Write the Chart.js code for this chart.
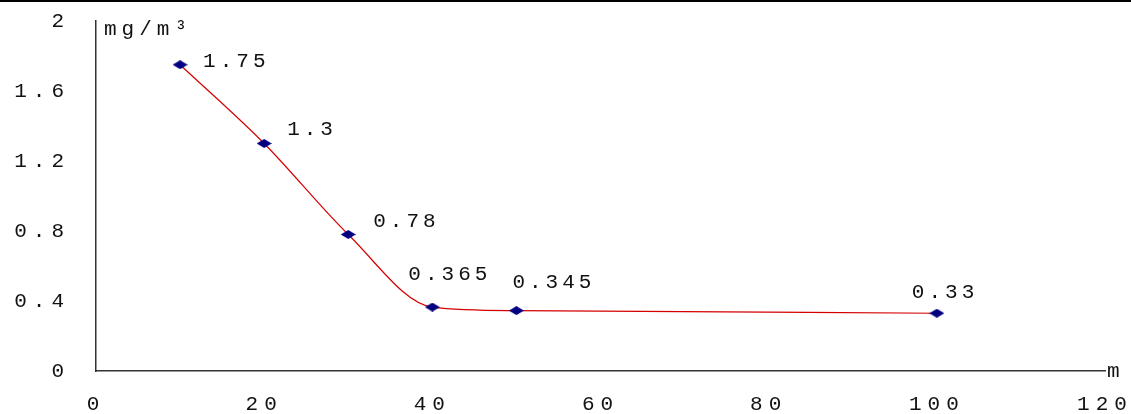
<!DOCTYPE html>
<html><head><meta charset="utf-8">
<script src="https://cdn.jsdelivr.net/npm/chart.js@4.4.1/dist/chart.umd.min.js"></script>
<style>html,body{margin:0;padding:0;background:#fff}#wrap{position:relative;width:1131px;height:414px}canvas{display:block}</style>
</head><body><div id="wrap"><canvas id="c" width="1131" height="414" style="width:1131px;height:414px"></canvas></div>
<script>
// ---- data ----
const distances = [10, 20, 30, 40, 50, 100];
const concentrations = [1.75, 1.3, 0.78, 0.365, 0.345, 0.33];
const xTicks = [0, 20, 40, 60, 80, 100, 120];
const yTicks = [0, 0.4, 0.8, 1.2, 1.6, 2];
const yUnit = 'mg/m³';
const xUnit = 'm';
// label placement relative to each point (px): [dx to left edge, dy to middle]
const labelOffsets = [[23, -3], [23, -14], [25, -13], [-24, -33], [-4, -28], [-25, -21]];

const FONT = '"Liberation Mono", "DejaVu Sans Mono", monospace';

function diamond(w, h, color) {
  const c = document.createElement('canvas');
  c.width = w; c.height = h;
  const g = c.getContext('2d');
  g.fillStyle = color;
  g.beginPath();
  g.moveTo(w / 2, 0); g.lineTo(w, h / 2); g.lineTo(w / 2, h); g.lineTo(0, h / 2);
  g.closePath(); g.fill();
  return c;
}
const marker = diamond(15, 9, '#000080');

const extras = {
  id: 'extras',
  beforeDraw(chart) {
    const ctx = chart.ctx;
    ctx.letterSpacing = '6px';
    ctx.save();
    ctx.fillStyle = '#000';
    ctx.fillRect(0, 0, chart.width, 2);
    ctx.restore();
  },
  afterDraw(chart) {
    const ctx = chart.ctx;
    const ys = chart.scales.y;
    ctx.save();
    ctx.font = '21px ' + FONT;
    ctx.fillStyle = '#111';
    ctx.textBaseline = 'middle';
    ctx.textAlign = 'left';
    ctx.letterSpacing = '4px';
    const meta = chart.getDatasetMeta(0);
    meta.data.forEach((pt, i) => {
      const off = labelOffsets[i];
      ctx.fillText(String(concentrations[i]), pt.x + off[0], pt.y + off[1]);
    });
    ctx.letterSpacing = '5px';
    ctx.fillText(yUnit, chart.chartArea.left + 8, ys.getPixelForValue(2) + 8);
    ctx.letterSpacing = '0px';
    ctx.fillText(xUnit, chart.chartArea.right + 2, chart.chartArea.bottom);
    ctx.restore();
  }
};

new Chart(document.getElementById('c'), {
  type: 'line',
  data: {
    datasets: [{
      data: distances.map((x, i) => ({ x, y: concentrations[i] })),
      borderColor: '#d40000',
      borderWidth: 1.2,
      cubicInterpolationMode: 'monotone',
      pointStyle: marker,
      pointRadius: 5,
      fill: false,
      clip: false
    }]
  },
  options: {
    responsive: false,
    animation: false,
    devicePixelRatio: 1,
    layout: { padding: { top: 21, right: 26, left: 0, bottom: 0 } },
    plugins: { legend: { display: false }, tooltip: { enabled: false } },
    scales: {
      x: {
        type: 'linear', min: 0, max: 120,
        afterBuildTicks: s => { s.ticks = xTicks.map(v => ({ value: v })); },
        afterFit: s => { s.height = 43; s.paddingLeft = 0; s.paddingRight = 0; },
        grid: { display: false },
        border: { display: true, color: '#333', width: 1.5 },
        ticks: { font: { family: FONT, size: 21 }, color: '#111', padding: 13, maxRotation: 0, autoSkip: false,
          callback: v => String(v) }
      },
      y: {
        type: 'linear', min: 0, max: 2,
        afterBuildTicks: s => { s.ticks = yTicks.map(v => ({ value: v })); },
        afterFit: s => { s.width = 96; s.paddingTop = 0; s.paddingBottom = 0; },
        grid: { display: false },
        border: { display: true, color: '#333', width: 1.5 },
        ticks: { font: { family: FONT, size: 21 }, color: '#111', padding: 18, autoSkip: false,
          callback: v => String(+(+v).toFixed(2)) }
      }
    }
  },
  plugins: [extras]
});
</script>
</body></html>
